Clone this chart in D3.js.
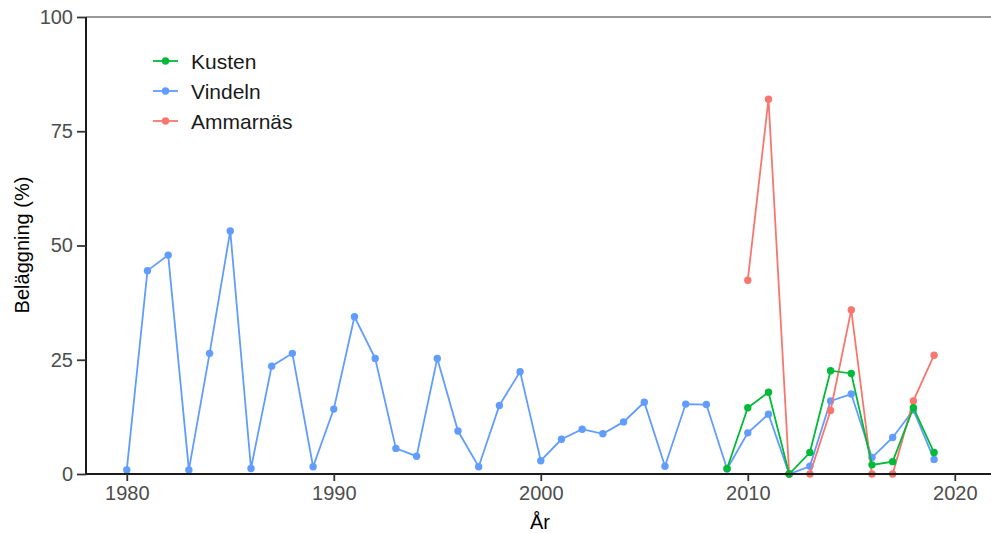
<!DOCTYPE html>
<html><head><meta charset="utf-8">
<script src="https://cdn.jsdelivr.net/npm/d3@7"></script>
<style>body{margin:0;background:#fff}svg{display:block}text{font-family:"Liberation Sans",Arial,sans-serif}</style>
</head><body><svg id="c" width="991" height="533"></svg>
<script>
const yearsVindeln = d3.range(1980, 2020);
const vindeln = [0.9,44.5,47.9,0.9,26.4,53.2,1.2,23.6,26.4,1.6,14.2,34.4,25.3,5.6,3.9,25.3,9.4,1.6,15.0,22.4,2.9,7.6,9.8,8.8,11.4,15.7,1.7,15.3,15.2,1.1,9.0,13.1,0,1.7,16.0,17.5,3.6,8.0,14.0,3.2];
const yearsKusten = d3.range(2009, 2020);
const kusten = [1.2,14.5,17.9,0,4.7,22.6,22.0,2.0,2.7,14.5,4.7];
const yearsAmmarnas = d3.range(2010, 2020);
const ammarnas = [42.4,82.0,0,0,13.9,35.9,0,0,16.0,26.0];
const seriesNames = ["Kusten","Vindeln","Ammarnäs"];
const seriesColors = ["#00BA38","#619CFF","#F8766D"];
const xTicks = [1980,1990,2000,2010,2020];
const yTicks = [0,25,50,75,100];

const svg = d3.select("#c");
const L = 86, R = 991, T = 17, B = 474;
const x = d3.scaleLinear().domain([1978.03, 2021.75]).range([L, R]);
const y = d3.scaleLinear().domain([0, 100]).range([B, T]);

svg.append("line").attr("x1", L).attr("x2", R).attr("y1", T).attr("y2", T).attr("stroke", "#333").attr("stroke-width", 1);

const series = [
  {name: "Vindeln", years: yearsVindeln, vals: vindeln},
  {name: "Ammarnäs", years: yearsAmmarnas, vals: ammarnas},
  {name: "Kusten", years: yearsKusten, vals: kusten}
];
const color = n => seriesColors[seriesNames.indexOf(n)];
const line = d3.line().x(d => x(d[0])).y(d => y(d[1]));
const plot = svg.append("g");
series.forEach(s => {
  const pts = s.years.map((yr, i) => [yr, s.vals[i]]);
  plot.append("path").datum(pts).attr("d", line).attr("fill", "none").attr("stroke", color(s.name)).attr("stroke-width", 1.8);
  plot.selectAll(null).data(pts).enter().append("circle").attr("cx", d => x(d[0])).attr("cy", d => y(d[1])).attr("r", 3.7).attr("fill", color(s.name));
});

const xa = svg.append("g").attr("transform", `translate(0,${B})`).call(d3.axisBottom(x).tickValues(xTicks).tickFormat(d3.format("d")).tickSize(7).tickPadding(5));
const ya = svg.append("g").attr("transform", `translate(${L},0)`).call(d3.axisLeft(y).tickValues(yTicks).tickSize(9).tickPadding(4));
[xa, ya].forEach(a => {
  a.select(".domain").attr("stroke", "#1a1a1a").attr("stroke-width", 2);
  a.selectAll(".tick line").attr("stroke", "#333").attr("stroke-width", 1.8);
  a.selectAll(".tick text").attr("fill", "#4d4d4d").attr("font-size", 20);
});
xa.select(".domain").attr("d", `M${L},0H${R}`);
ya.select(".domain").attr("d", `M0,${B}V${T}`);

svg.append("text").attr("x", 540).attr("y", 529).attr("text-anchor", "middle").attr("font-size", 20).attr("fill", "#000").text("År");
svg.append("text").attr("transform", `translate(29,245) rotate(-90)`).attr("text-anchor", "middle").attr("font-size", 20).attr("fill", "#000").text("Beläggning (%)");

const lg = svg.append("g");
seriesNames.forEach((n, i) => {
  const yy = 61 + i * 30;
  lg.append("line").attr("x1", 153).attr("x2", 178).attr("y1", yy).attr("y2", yy).attr("stroke", seriesColors[i]).attr("stroke-width", 1.8);
  lg.append("circle").attr("cx", 165.5).attr("cy", yy).attr("r", 3.7).attr("fill", seriesColors[i]);
  lg.append("text").attr("x", 191).attr("y", yy + 7.5).attr("font-size", 21).attr("fill", "#1a1a1a").text(n);
});
</script></body></html>
